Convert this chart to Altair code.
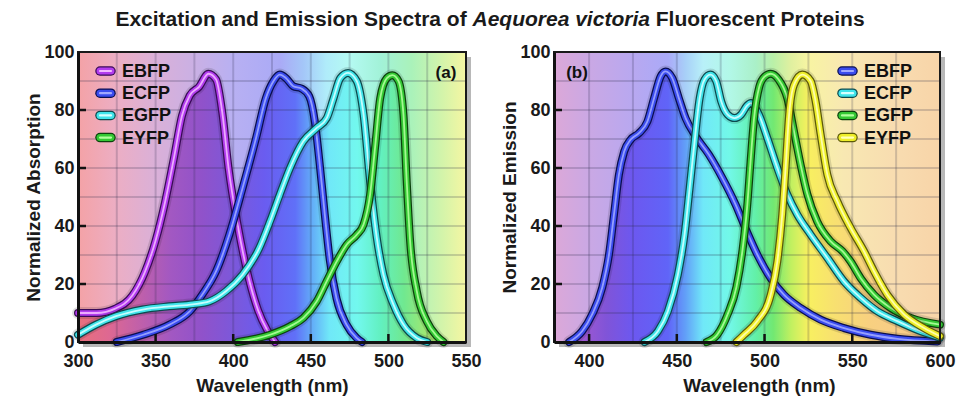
import altair as alt
import pandas as pd

# ------------------------------------------------------------------ data
NAMES = ["EBFP", "ECFP", "EGFP", "EYFP"]

# (a) absorption spectra
ABS_EBFP_WL = [300, 312, 324, 335, 343, 350, 356, 362, 367, 372, 378, 384, 389, 393, 397, 403, 410, 416, 422, 427]
ABS_EBFP_V = [10, 10, 11.5, 16, 24, 35, 48, 64, 78, 85, 88, 92.5, 90.5, 79, 60, 40, 22, 11, 4, 0]

ABS_ECFP_WL = [325, 342, 359, 372, 380, 389, 397.5, 406, 414.7, 421, 426, 430, 434, 438.7, 444, 449, 452.6, 455.8, 459, 462.3, 466.6, 473, 479.5, 483]
ABS_ECFP_V = [0, 2.5, 6, 10.6, 16.3, 24.4, 37, 53, 70.3, 84, 90, 92.2, 91, 88.2, 87.4, 84.7, 76, 61, 44, 28, 15, 6, 1.4, 0]

ABS_EGFP_WL = [300, 311.6, 324.5, 341.7, 358.8, 374, 384.6, 395.3, 406, 416.8, 424, 430, 436.6, 445.2, 453.8, 460.3, 464.6, 469, 474, 479.6, 484, 488.2, 492.5, 496.8, 503.2, 509.7, 518.3, 525]
ABS_EGFP_V = [2.5, 6, 8.9, 11.2, 12.3, 13, 14, 17.5, 23.2, 32.4, 42, 50.8, 60, 69.2, 73.8, 77.2, 84, 91, 92.8, 90, 78.4, 55.4, 36, 23.2, 13, 6, 1.4, 0]

ABS_EYFP_WL = [403, 423.7, 436.6, 445.2, 453.8, 460.3, 466.7, 473.2, 479.6, 484, 488.2, 491.4, 494.7, 499, 502.6, 506.5, 509.7, 511.8, 514, 518.3, 524.7, 531.2, 535.5]
ABS_EYFP_V = [0, 2.5, 5.4, 8.3, 14, 21, 27.8, 33.6, 37, 40.5, 50.8, 67, 84, 91, 92, 90, 78.4, 55.4, 34.7, 17.5, 7.2, 2, 0]

# (b) emission spectra
EM_EBFP_WL = [388.6, 396, 401.8, 407.5, 411.3, 414.2, 417, 420, 423.7, 428.4, 433.2, 437, 440.8, 443.6, 447.4, 451.2, 455, 460.7, 468.3, 475.9, 483.5, 490, 496, 503.5, 511, 520.6, 532, 545.3, 560.5, 575.7, 598.5]
EM_EBFP_V = [0, 3.7, 9.6, 18.8, 30, 44, 57.7, 65.7, 69.8, 72, 76, 84, 91.6, 93.3, 91, 84, 77.2, 71, 64.6, 56.6, 47.4, 38, 30, 22, 16.3, 11.7, 7.7, 4.8, 2.5, 1.1, 0.2]

EM_ECFP_WL = [431.6, 439.2, 444.9, 450.6, 454.4, 457.3, 460.1, 463, 465.8, 469.2, 472.4, 475.3, 479, 482.9, 486.6, 490, 492.1, 496.8, 501.6, 507.3, 513, 518.7, 526.3, 535.8, 545.3, 554.8, 564.3, 575.7, 589, 600]
EM_ECFP_V = [0, 3.7, 10.6, 23.2, 37, 53, 69, 84, 90.5, 92.2, 90, 83, 78.4, 77.2, 78.4, 81.5, 82.4, 78.4, 70.3, 60, 50.8, 43.9, 37, 29, 20.9, 15.2, 10.6, 7.2, 3.7, 1.5]

EM_EGFP_WL = [467, 473, 479, 484, 487.5, 490, 492, 494, 497, 500, 503.5, 508, 513, 516.8, 520.6, 524.4, 530, 537.7, 544.4, 549, 554.8, 562.4, 572, 583.3, 600]
EM_EGFP_V = [0, 2.5, 9.6, 19, 32, 46, 62, 77, 88, 91.5, 92.5, 90.5, 84, 72.6, 61, 51, 41.6, 34.7, 31.3, 27.8, 22, 16.3, 11.7, 8.3, 6]

EM_EYFP_WL = [484, 488.3, 495.9, 503.5, 507.3, 510.1, 512.1, 514, 516.8, 521.5, 526.3, 529.1, 532, 535.8, 541.5, 549.1, 556.7, 562.4, 570, 579.5, 590.9, 600]
EM_EYFP_V = [0, 2.5, 7.2, 16.3, 27.8, 44, 61, 78.4, 88.7, 92.2, 90, 83, 71.5, 57.7, 48.5, 39.3, 31.3, 24.4, 16.3, 9.5, 4.8, 2]

X_TICKS_A = [300, 350, 400, 450, 500, 550]
X_TICKS_B = [400, 450, 500, 550, 600]
Y_TICKS = [0, 20, 40, 60, 80, 100]

TITLE_1 = "Excitation and Emission Spectra of"
TITLE_2 = "Aequorea victoria"
TITLE_3 = "Fluorescent Proteins"

# ------------------------------------------------------------------ styles
FONT = "Liberation Sans"
H = 290
W_A, W_B = 388, 386

# tube colours: (main, dark outline, highlight)
PURPLE = ("#b23cee", "#3a0a58", "#f2b8ff")
BLUE = ("#3a4cee", "#0a0e50", "#a0a8ff")
CYAN = ("#40e4ea", "#0c4a4e", "#d4ffff")
GREEN = ("#34c834", "#0c420c", "#b0ff9c")
YELLOW = ("#eeee2a", "#5c5a08", "#ffffb8")

LIGHT_A = [(300, "#f4a2a6"), (325, "#ecaec4"), (350, "#dab0d8"), (375, "#cab0e4"), (400, "#b8b0f2"),
           (430, "#aaaaf6"), (445, "#a4c6f8"), (460, "#b0ecfa"), (475, "#b4faf2"), (495, "#a2f2d8"),
           (515, "#aaf2ba"), (535, "#d4f4aa"), (550, "#f6f6a2")]
DARK_A = [(300, "#e8707c"), (320, "#de6892"), (340, "#c060aa"), (360, "#a258c2"), (380, "#9052ca"),
          (400, "#7c58da"), (420, "#6a5cf0"), (440, "#6070f8"), (450, "#62a8f8"), (462, "#70e8f8"),
          (480, "#72f8ee"), (495, "#62f0c0"), (510, "#70e890"), (525, "#a2e872"), (550, "#e0f070")]
LIGHT_B = [(380, "#dca8d8"), (400, "#caa8e4"), (425, "#b8a8f0"), (445, "#aaaaf8"), (455, "#a8d0f8"),
           (465, "#b8f0f8"), (480, "#b2f8e8"), (495, "#aaf0c8"), (505, "#baf0a8"), (515, "#e0f0a0"),
           (525, "#f8f4a2"), (545, "#f8e8b2"), (575, "#f8dcb0"), (600, "#f8d4a8")]
DARK_B = [(380, "#c070c8"), (395, "#a058d0"), (410, "#8054d8"), (425, "#6c58f0"), (445, "#6064f8"),
          (455, "#62a0f8"), (465, "#70e8f8"), (480, "#72f8e8"), (495, "#62f0a8"), (505, "#72e872"),
          (515, "#c0f060"), (525, "#f8f060"), (540, "#f8e070"), (560, "#f8d080"), (600, "#f8c890")]


def _rgb(h):
    h = h.lstrip("#")
    return [int(h[i:i + 2], 16) for i in (0, 2, 4)]


def _hex(c):
    return "#%02x%02x%02x" % tuple(int(round(v)) for v in c)


def _color_at(stops, w):
    if w <= stops[0][0]:
        return stops[0][1]
    for (w0, c0), (w1, c1) in zip(stops, stops[1:]):
        if w0 <= w <= w1:
            t = (w - w0) / (w1 - w0)
            a, b = _rgb(c0), _rgb(c1)
            return _hex([a[i] + (b[i] - a[i]) * t for i in range(3)])
    return stops[-1][1]


def spectrum_gradient(stops, lo, hi):
    out = [(0.0, _color_at(stops, lo))]
    for w, c in stops:
        if lo < w < hi:
            out.append(((w - lo) / (hi - lo), c))
    out.append((1.0, _color_at(stops, hi)))
    return alt.Gradient(gradient="linear", x1=0, x2=1, y1=0, y2=0,
                        stops=[alt.GradientStop(offset=o, color=c) for o, c in out])


ONE = pd.DataFrame({"k": [0]})


def panel(series, xdom, xticks, width, ytitle, light, dark, label, label_x, legend_x, xtitle_x=None, with_title=False):
    xs = alt.Scale(domain=xdom, nice=False, zero=False)
    ys = alt.Scale(domain=[0, 100], nice=False, zero=False)
    xaxis_kw = dict(values=xticks, title="Wavelength (nm)", grid=False, ticks=False, tickSize=0,
                    labelPadding=10, titlePadding=6, domainColor="#111", domainWidth=3, zindex=1,
                    labelFont=FONT, labelFontSize=18, labelFontWeight="bold", labelColor="#1a1a1a",
                    titleFont=FONT, titleFontSize=19, titleFontWeight="bold", titleColor="#1a1a1a",
                    labelFlush=False)
    if xtitle_x is not None:
        xaxis_kw["titleX"] = xtitle_x
    XA = alt.Axis(**xaxis_kw)
    YA = alt.Axis(values=Y_TICKS, title=ytitle, grid=False, ticks=False, tickSize=0,
                  labelPadding=4, titlePadding=0, domainColor="#111", domainWidth=3, zindex=1,
                  labelFont=FONT, labelFontSize=18, labelFontWeight="bold", labelColor="#1a1a1a",
                  titleFont=FONT, titleFontSize=19, titleFontWeight="bold", titleColor="#1a1a1a",
                  labelFlush=False)

    def X(f):
        return alt.X(f, type="quantitative", scale=xs, axis=XA)

    def Y(f):
        return alt.Y(f, type="quantitative", scale=ys, axis=YA)

    layers = []
    # drop shadow + spectral background
    layers.append(alt.Chart(ONE).mark_rect(color="#000000", opacity=0.28).encode(
        x=alt.value(5), x2=alt.value(width + 5), y=alt.value(5), y2=alt.value(H + 5)))
    layers.append(alt.Chart(ONE).mark_rect(color=spectrum_gradient(light, xdom[0], xdom[1])).encode(
        x=alt.value(0), x2=alt.value(width), y=alt.value(0), y2=alt.value(H)))
    # saturated fill under each curve
    for name, wl, val, col in series:
        df = pd.DataFrame({"wl": wl, "v": val})
        layers.append(alt.Chart(df).mark_area(interpolate="monotone",
                                              color=spectrum_gradient(dark, min(wl), max(wl))).encode(
            x=X("wl"), y=Y("v")))
    # grid
    gx = pd.DataFrame({"g": list(range(xdom[0] + (25 - xdom[0] % 25) % 25, xdom[1] + 1, 25))})
    gy = pd.DataFrame({"g": list(range(10, 100, 10))})
    layers.append(alt.Chart(gx).mark_rule(color="#2a2a48", opacity=0.2, strokeWidth=2).encode(
        x=X("g"), y=alt.value(0), y2=alt.value(H)))
    layers.append(alt.Chart(gy).mark_rule(color="#2a2a48", opacity=0.2, strokeWidth=2).encode(
        y=Y("g"), x=alt.value(0), x2=alt.value(width)))
    # curves as glossy tubes
    for name, wl, val, col in series:
        df = pd.DataFrame({"wl": wl, "v": val})
        main, darkc, hi = col
        for c, sw, op in [("#000000", 12, 0.12), (darkc, 8, 1), (main, 5.5, 1), (hi, 1.8, 0.9)]:
            layers.append(alt.Chart(df).mark_line(interpolate="monotone", color=c, strokeWidth=sw,
                                                  opacity=op, strokeCap="round", strokeJoin="round").encode(
                x=X("wl"), y=Y("v")))
    # inward tick marks
    tx = pd.DataFrame({"t": [t for t in xticks if xdom[0] < t < xdom[1]]})
    ty = pd.DataFrame({"t": [t for t in Y_TICKS if 0 < t < 100]})
    layers.append(alt.Chart(tx).mark_rule(color="#111", strokeWidth=2.5).encode(
        x=X("t"), y=alt.value(H), y2=alt.value(H - 8)))
    layers.append(alt.Chart(ty).mark_rule(color="#111", strokeWidth=2.5).encode(
        y=Y("t"), x=alt.value(0), x2=alt.value(8)))
    # frame
    layers.append(alt.Chart(ONE).mark_rect(filled=False, stroke="#1a1a1a", strokeWidth=2).encode(
        x=alt.value(0), x2=alt.value(width), y=alt.value(0), y2=alt.value(H)))
    # legend
    for i, (name, wl, val, col) in enumerate(series):
        main, darkc, hi = col
        yy = 19 + 22.2 * i
        for c, sw in [(darkc, 9.5), (main, 7), (hi, 2.2)]:
            layers.append(alt.Chart(ONE).mark_rule(color=c, strokeWidth=sw, strokeCap="round").encode(
                x=alt.value(legend_x + 4), x2=alt.value(legend_x + 15), y=alt.value(yy)))
        layers.append(alt.Chart(ONE).mark_text(text=name, align="left", baseline="middle", font=FONT,
                                               fontSize=18, fontWeight="bold", color="#111").encode(
            x=alt.value(legend_x + 26), y=alt.value(yy + 1)))
    # panel label
    layers.append(alt.Chart(ONE).mark_text(text=label, align="center", baseline="middle", font=FONT,
                                           fontSize=17, fontWeight="bold", color="#111").encode(
        x=alt.value(label_x), y=alt.value(21)))
    if with_title:
        size = 21
        space = 0.278 * size
        w2 = 8.447 * size
        w1 = 16.727 * size
        w3 = 9.947 * size
        start = 412 - (w1 + w2 + w3 + 2 * space) / 2
        x2 = start + w1 + space
        for txt, xp, al, st in [(TITLE_1, x2 - space, "right", "normal"), (TITLE_2, x2, "left", "italic"),
                                (TITLE_3, x2 + w2 + space, "left", "normal")]:
            layers.append(alt.Chart(ONE).mark_text(text=txt, align=al, baseline="alphabetic", font=FONT,
                                                   fontSize=size, fontWeight="bold", fontStyle=st,
                                                   color="#1a1a1a").encode(
                x=alt.value(xp), y=alt.value(-26)))
    return alt.layer(*layers).properties(width=width, height=H)


series_a = [("EBFP", ABS_EBFP_WL, ABS_EBFP_V, PURPLE), ("ECFP", ABS_ECFP_WL, ABS_ECFP_V, BLUE),
            ("EGFP", ABS_EGFP_WL, ABS_EGFP_V, CYAN), ("EYFP", ABS_EYFP_WL, ABS_EYFP_V, GREEN)]
series_b = [("EBFP", EM_EBFP_WL, EM_EBFP_V, BLUE), ("ECFP", EM_ECFP_WL, EM_ECFP_V, CYAN),
            ("EGFP", EM_EGFP_WL, EM_EGFP_V, GREEN), ("EYFP", EM_EYFP_WL, EM_EYFP_V, YELLOW)]

left = panel(series_a, [300, 550], X_TICKS_A, W_A, "Normalized Absorption", LIGHT_A, DARK_A,
             "(a)", 368, 18, with_title=True)
right = panel(series_b, [380, 600], X_TICKS_B, W_B, "Normalized Emission", LIGHT_B, DARK_B,
              "(b)", 23, 284, xtitle_x=205)

chart = alt.hconcat(left, right, spacing=88, bounds="flush").properties(
    padding={"left": 16, "top": 0, "right": 5, "bottom": 0}
).configure_view(stroke=None).configure(background="white")

chart.save("out.html", embed_options={"renderer": "svg", "actions": False})
